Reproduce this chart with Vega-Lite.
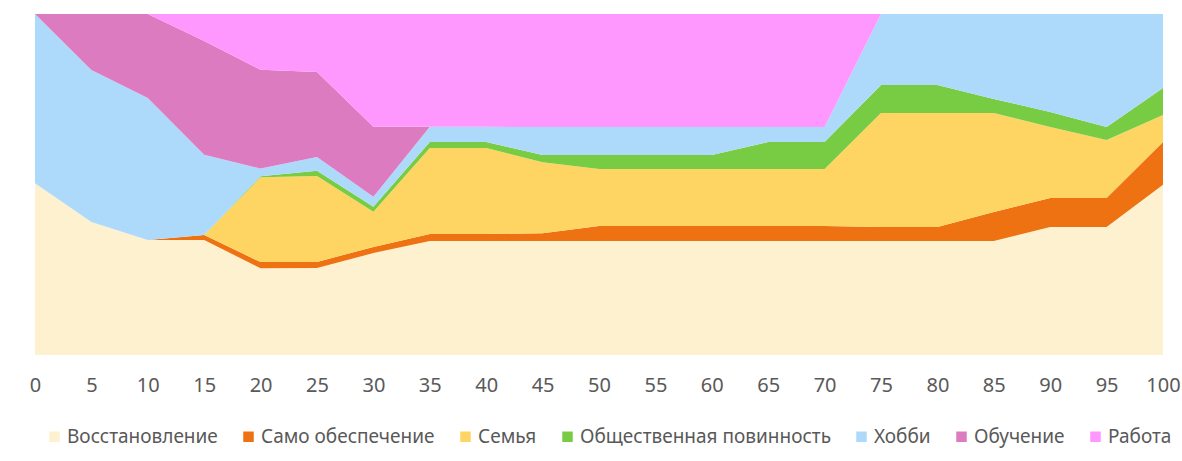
{
  "$schema": "https://vega.github.io/schema/vega-lite/v6.json",
  "autosize": {"type": "none"},
  "width": 1128,
  "height": 341,
  "padding": {"left": 35, "top": 14, "right": 19, "bottom": 106},
  "background": "#ffffff",
  "datasets": {
    "ranks": [
      {"cat": "Восстановление", "rank": 1},
      {"cat": "Само обеспечение", "rank": 2},
      {"cat": "Семья", "rank": 3},
      {"cat": "Общественная повинность", "rank": 4},
      {"cat": "Хобби", "rank": 5},
      {"cat": "Обучение", "rank": 6},
      {"cat": "Работа", "rank": 7}
    ]
  },
  "data": {
    "values": [
      {"x": 0, "Восстановление": 50.4, "Само обеспечение": 0, "Семья": 0, "Общественная повинность": 0, "Хобби": 49.6, "Обучение": 0, "Работа": 0},
      {"x": 5, "Восстановление": 39.0, "Само обеспечение": 0, "Семья": 0, "Общественная повинность": 0, "Хобби": 44.6, "Обучение": 16.4, "Работа": 0},
      {"x": 10, "Восстановление": 33.7, "Само обеспечение": 0, "Семья": 0, "Общественная повинность": 0, "Хобби": 41.6, "Обучение": 24.6, "Работа": 0},
      {"x": 15, "Восстановление": 33.7, "Само обеспечение": 1.5, "Семья": 0, "Общественная повинность": 0, "Хобби": 23.5, "Обучение": 33.4, "Работа": 7.9},
      {"x": 20, "Восстановление": 25.5, "Само обеспечение": 1.8, "Семья": 24.9, "Общественная повинность": 0.3, "Хобби": 2.3, "Обучение": 29.0, "Работа": 16.4},
      {"x": 25, "Восстановление": 25.5, "Само обеспечение": 1.8, "Семья": 25.2, "Общественная повинность": 1.5, "Хобби": 4.1, "Обучение": 24.9, "Работа": 17.0},
      {"x": 30, "Восстановление": 29.9, "Само обеспечение": 1.8, "Семья": 10.3, "Общественная повинность": 1.5, "Хобби": 2.9, "Обучение": 20.5, "Работа": 33.1},
      {"x": 35, "Восстановление": 33.4, "Само обеспечение": 2.1, "Семья": 25.2, "Общественная повинность": 1.8, "Хобби": 4.4, "Обучение": 0, "Работа": 33.1},
      {"x": 40, "Восстановление": 33.4, "Само обеспечение": 2.1, "Семья": 25.2, "Общественная повинность": 1.8, "Хобби": 4.4, "Обучение": 0, "Работа": 33.1},
      {"x": 45, "Восстановление": 33.4, "Само обеспечение": 2.3, "Семья": 20.8, "Общественная повинность": 2.1, "Хобби": 8.2, "Обучение": 0, "Работа": 33.1},
      {"x": 50, "Восстановление": 33.4, "Само обеспечение": 4.4, "Семья": 16.7, "Общественная повинность": 4.1, "Хобби": 8.2, "Обучение": 0, "Работа": 33.1},
      {"x": 55, "Восстановление": 33.4, "Само обеспечение": 4.4, "Семья": 16.7, "Общественная повинность": 4.1, "Хобби": 8.2, "Обучение": 0, "Работа": 33.1},
      {"x": 60, "Восстановление": 33.4, "Само обеспечение": 4.4, "Семья": 16.7, "Общественная повинность": 4.1, "Хобби": 8.2, "Обучение": 0, "Работа": 33.1},
      {"x": 65, "Восстановление": 33.4, "Само обеспечение": 4.4, "Семья": 16.7, "Общественная повинность": 7.9, "Хобби": 4.4, "Обучение": 0, "Работа": 33.1},
      {"x": 70, "Восстановление": 33.4, "Само обеспечение": 4.4, "Семья": 16.7, "Общественная повинность": 7.9, "Хобби": 4.4, "Обучение": 0, "Работа": 33.1},
      {"x": 75, "Восстановление": 33.4, "Само обеспечение": 4.1, "Семья": 33.4, "Общественная повинность": 8.2, "Хобби": 20.8, "Обучение": 0, "Работа": 0},
      {"x": 80, "Восстановление": 33.4, "Само обеспечение": 4.1, "Семья": 33.4, "Общественная повинность": 8.2, "Хобби": 20.8, "Обучение": 0, "Работа": 0},
      {"x": 85, "Восстановление": 33.4, "Само обеспечение": 8.5, "Семья": 29.0, "Общественная повинность": 4.1, "Хобби": 24.9, "Обучение": 0, "Работа": 0},
      {"x": 90, "Восстановление": 37.5, "Само обеспечение": 8.5, "Семья": 20.8, "Общественная повинность": 4.4, "Хобби": 28.7, "Обучение": 0, "Работа": 0},
      {"x": 95, "Восстановление": 37.5, "Само обеспечение": 8.5, "Семья": 17.0, "Общественная повинность": 3.8, "Хобби": 33.1, "Обучение": 0, "Работа": 0},
      {"x": 100, "Восстановление": 49.9, "Само обеспечение": 12.6, "Семья": 7.9, "Общественная повинность": 7.9, "Хобби": 21.7, "Обучение": 0, "Работа": 0}
    ]
  },
  "transform": [
    {"fold": ["Восстановление", "Само обеспечение", "Семья", "Общественная повинность", "Хобби", "Обучение", "Работа"], "as": ["cat", "v"]},
    {"lookup": "cat", "from": {"data": {"name": "ranks"}, "key": "cat", "fields": ["rank"]}}
  ],
  "mark": {"type": "area", "interpolate": "linear"},
  "encoding": {
    "x": {
      "field": "x", "type": "quantitative",
      "scale": {"domain": [0, 100], "nice": false, "zero": false},
      "axis": {
        "values": [0,5,10,15,20,25,30,35,40,45,50,55,60,65,70,75,80,85,90,95,100],
        "title": null, "grid": false, "domain": false, "ticks": false,
        "labelFont": "Noto Sans", "labelFontSize": 20, "labelColor": "#595959",
        "labelPadding": 20, "labelOverlap": false, "labelFlush": false
      }
    },
    "y": {
      "field": "v", "type": "quantitative", "stack": "normalize",
      "scale": {"domain": [0, 1], "nice": false},
      "axis": null
    },
    "color": {
      "field": "cat", "type": "nominal",
      "sort": ["Восстановление", "Само обеспечение", "Семья", "Общественная повинность", "Хобби", "Обучение", "Работа"],
      "scale": {
        "domain": ["Восстановление", "Само обеспечение", "Семья", "Общественная повинность", "Хобби", "Обучение", "Работа"],
        "range": ["#fef1cf", "#ee7212", "#fed563", "#77cc44", "#addafb", "#dc7bbf", "#fe98fe"]
      },
      "legend": {
        "title": null, "orient": "none", "direction": "horizontal",
        "legendX": 10, "legendY": 413,
        "symbolType": "square", "symbolSize": 110, "symbolStrokeWidth": 0,
        "labelFont": "Noto Sans", "labelFontSize": 19, "labelColor": "#595959",
        "columnPadding": 21, "labelOffset": 3, "labelLimit": 400
      }
    },
    "order": {"field": "rank", "type": "quantitative", "sort": "ascending"}
  },
  "config": {"view": {"stroke": null}}
}
